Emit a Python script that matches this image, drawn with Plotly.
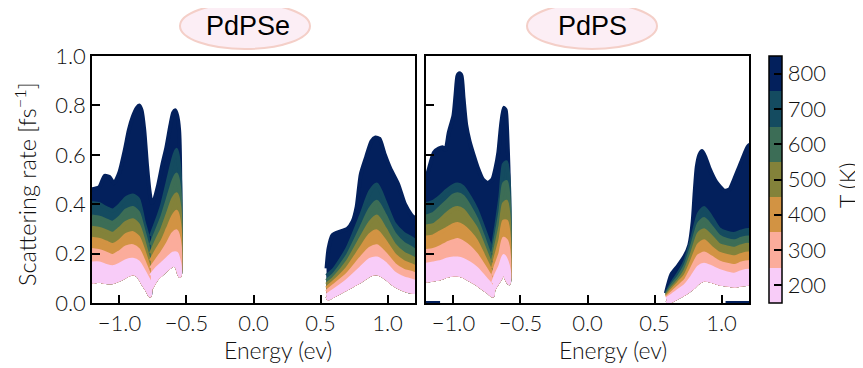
import plotly.graph_objects as go
from plotly.subplots import make_subplots

# ---------------- data ----------------
temps = [200, 300, 400, 500, 600, 700, 800]
tick_x = [-1.0, -0.5, 0.0, 0.5, 1.0]
tick_x_text = ["\u22121.0", "\u22120.5", "0.0", "0.5", "1.0"]
tick_y = [0.0, 0.2, 0.4, 0.6, 0.8, 1.0]
tick_y_text = ["0.0", "0.2", "0.4", "0.6", "0.8", "1.0"]
panel_titles = ["PdPSe", "PdPS"]

# PdPSe, valence side, first hump (band tops for 200..700 K, bottom of the 200 K band)
se_a_E = [-1.205, -1.15, -1.1, -1.05, -1.0, -0.95, -0.9, -0.86, -0.82, -0.79, -0.772]
se_a_tops = {
    200: [0.16, 0.16, 0.15, 0.145, 0.155, 0.17, 0.175, 0.165, 0.13, 0.10, 0.08],
    300: [0.215, 0.21, 0.20, 0.19, 0.205, 0.225, 0.23, 0.215, 0.17, 0.13, 0.105],
    400: [0.26, 0.255, 0.245, 0.235, 0.25, 0.275, 0.283, 0.265, 0.21, 0.16, 0.13],
    500: [0.305, 0.30, 0.29, 0.28, 0.30, 0.325, 0.335, 0.315, 0.25, 0.19, 0.16],
    600: [0.35, 0.345, 0.335, 0.325, 0.345, 0.375, 0.385, 0.365, 0.29, 0.23, 0.18],
    700: [0.405, 0.40, 0.385, 0.375, 0.395, 0.425, 0.435, 0.42, 0.33, 0.27, 0.20],
}
se_a_bottom = [0.085, 0.09, 0.085, 0.085, 0.095, 0.11, 0.12, 0.11, 0.075, 0.05, 0.03]

# PdPSe, valence side, second peak
se_b_E = [-0.765, -0.72, -0.68, -0.64, -0.60, -0.575, -0.55]
se_b_tops = {
    200: [0.11, 0.14, 0.16, 0.18, 0.20, 0.20, 0.15],
    300: [0.14, 0.175, 0.205, 0.24, 0.28, 0.29, 0.23],
    400: [0.17, 0.215, 0.25, 0.30, 0.35, 0.37, 0.30],
    500: [0.20, 0.255, 0.30, 0.36, 0.42, 0.44, 0.37],
    600: [0.235, 0.295, 0.35, 0.42, 0.49, 0.52, 0.44],
    700: [0.27, 0.335, 0.40, 0.49, 0.58, 0.62, 0.52],
}
se_b_bottom = [0.06, 0.10, 0.12, 0.14, 0.155, 0.15, 0.11]

# PdPSe, 800 K envelope on the valence side
se_v800_E = [-1.205, -1.15, -1.11, -1.075, -1.04, -1.0, -0.96, -0.93, -0.90, -0.87,
             -0.853, -0.835, -0.815, -0.795, -0.775, -0.76, -0.74, -0.71, -0.68,
             -0.65, -0.62, -0.60, -0.585, -0.57, -0.555, -0.547]
se_v800_top = [0.46, 0.47, 0.515, 0.51, 0.485, 0.53, 0.62, 0.70, 0.755, 0.79,
               0.80, 0.78, 0.70, 0.56, 0.45, 0.405, 0.42, 0.48, 0.56,
               0.63, 0.72, 0.77, 0.78, 0.76, 0.70, 0.52]

# PdPSe, conduction side
se_c_E = [0.545, 0.6, 0.7, 0.8, 0.87, 0.92, 0.98, 1.05, 1.12, 1.205]
se_c_tops = {
    200: [0.03, 0.05, 0.09, 0.14, 0.175, 0.18, 0.16, 0.12, 0.10, 0.085],
    300: [0.045, 0.07, 0.115, 0.18, 0.22, 0.23, 0.20, 0.155, 0.13, 0.115],
    400: [0.06, 0.085, 0.14, 0.22, 0.275, 0.29, 0.25, 0.195, 0.165, 0.145],
    500: [0.075, 0.10, 0.165, 0.26, 0.325, 0.35, 0.30, 0.235, 0.20, 0.175],
    600: [0.09, 0.115, 0.19, 0.30, 0.38, 0.41, 0.355, 0.28, 0.24, 0.21],
    700: [0.11, 0.135, 0.22, 0.35, 0.45, 0.48, 0.41, 0.32, 0.28, 0.25],
}
se_c_bottom = [0.015, 0.03, 0.06, 0.09, 0.115, 0.12, 0.105, 0.075, 0.055, 0.045]
se_c800_E = [0.545, 0.56, 0.59, 0.65, 0.70, 0.74, 0.77, 0.80, 0.84, 0.88, 0.91,
             0.94, 0.98, 1.02, 1.08, 1.13, 1.18, 1.205]
se_c800_top = [0.14, 0.22, 0.275, 0.29, 0.30, 0.33, 0.39, 0.52, 0.59, 0.655, 0.67,
               0.665, 0.60, 0.545, 0.48, 0.40, 0.355, 0.34]

# PdPS, valence side, first hump
s_a_E = [-1.205, -1.15, -1.1, -1.05, -1.0, -0.97, -0.93, -0.88, -0.83, -0.78, -0.74, -0.708]
s_a_tops = {
    200: [0.155, 0.16, 0.165, 0.175, 0.18, 0.18, 0.175, 0.16, 0.14, 0.11, 0.085, 0.06],
    300: [0.21, 0.215, 0.225, 0.24, 0.25, 0.255, 0.245, 0.225, 0.195, 0.155, 0.12, 0.085],
    400: [0.265, 0.27, 0.285, 0.30, 0.315, 0.32, 0.31, 0.285, 0.25, 0.195, 0.15, 0.105],
    500: [0.31, 0.315, 0.335, 0.36, 0.38, 0.385, 0.375, 0.34, 0.30, 0.235, 0.18, 0.13],
    600: [0.35, 0.36, 0.385, 0.41, 0.435, 0.44, 0.43, 0.39, 0.34, 0.27, 0.21, 0.16],
    700: [0.40, 0.41, 0.43, 0.455, 0.475, 0.48, 0.47, 0.43, 0.38, 0.31, 0.25, 0.20],
}
s_a_bottom = [0.09, 0.095, 0.10, 0.11, 0.115, 0.115, 0.11, 0.095, 0.08, 0.06, 0.045, 0.03]

# PdPS, valence side, second peak
s_b_E = [-0.705, -0.68, -0.65, -0.625, -0.605, -0.586]
s_b_tops = {
    200: [0.08, 0.115, 0.15, 0.19, 0.17, 0.13],
    300: [0.11, 0.155, 0.20, 0.26, 0.25, 0.19],
    400: [0.14, 0.195, 0.255, 0.33, 0.33, 0.26],
    500: [0.17, 0.235, 0.31, 0.40, 0.41, 0.33],
    600: [0.20, 0.275, 0.37, 0.48, 0.49, 0.40],
    700: [0.23, 0.315, 0.43, 0.56, 0.57, 0.48],
}
s_b_bottom = [0.05, 0.075, 0.10, 0.13, 0.10, 0.08]

s_v800_E = [-1.205, -1.17, -1.145, -1.11, -1.08, -1.06, -1.035, -1.0, -0.985, -0.97,
            -0.955, -0.94, -0.925, -0.905, -0.88, -0.85, -0.82, -0.78, -0.745, -0.71,
            -0.685, -0.665, -0.645, -0.625, -0.61, -0.60, -0.59, -0.586]
s_v800_top = [0.50, 0.57, 0.61, 0.625, 0.63, 0.62, 0.69, 0.76, 0.84, 0.92,
              0.93, 0.92, 0.83, 0.72, 0.655, 0.60, 0.55, 0.50, 0.486, 0.50,
              0.55, 0.61, 0.72, 0.79, 0.78, 0.70, 0.55, 0.45]

# PdPS, conduction side
s_c_E = [0.59, 0.63, 0.68, 0.73, 0.78, 0.83, 0.87, 0.92, 0.98, 1.04, 1.1, 1.15, 1.205]
s_c_tops = {
    200: [0.015, 0.03, 0.05, 0.07, 0.105, 0.145, 0.155, 0.145, 0.13, 0.12, 0.115, 0.125, 0.13],
    300: [0.02, 0.04, 0.065, 0.09, 0.14, 0.19, 0.20, 0.185, 0.165, 0.155, 0.15, 0.16, 0.165],
    400: [0.025, 0.05, 0.08, 0.11, 0.17, 0.235, 0.25, 0.225, 0.20, 0.19, 0.185, 0.195, 0.20],
    500: [0.03, 0.06, 0.09, 0.13, 0.20, 0.28, 0.295, 0.27, 0.235, 0.225, 0.22, 0.23, 0.235],
    600: [0.035, 0.07, 0.105, 0.15, 0.23, 0.32, 0.34, 0.31, 0.27, 0.255, 0.25, 0.26, 0.265],
    700: [0.04, 0.08, 0.12, 0.17, 0.26, 0.36, 0.385, 0.35, 0.30, 0.285, 0.28, 0.29, 0.295],
}
s_c_bottom = [0.0, 0.01, 0.025, 0.04, 0.06, 0.085, 0.095, 0.09, 0.08, 0.075, 0.07, 0.075, 0.08]
s_c800_E = [0.585, 0.625, 0.675, 0.725, 0.76, 0.785, 0.80, 0.815, 0.835, 0.855, 0.88,
            0.91, 0.96, 1.02, 1.06, 1.09, 1.15, 1.205]
s_c800_top = [0.04, 0.115, 0.15, 0.19, 0.235, 0.33, 0.45, 0.55, 0.60, 0.615, 0.59,
              0.545, 0.49, 0.455, 0.46, 0.495, 0.575, 0.64]

# near-zero rates lying on the bottom axis (PdPS)
s_zero_left_E = [-1.205, -1.1]
s_zero_right_E = [1.03, 1.205]

# ---------------- styling ----------------
colors = {200: "#F8CCF8", 300: "#FBAC9B", 400: "#D29343", 500: "#83823A",
          600: "#3C6D56", 700: "#144B60", 800: "#03205C"}
FONT = "Lato, 'Liberation Sans', Arial, sans-serif"
TXT = "#111111"
OFF = 8              # page body margin of the rendered html
W, H = 863 - OFF, 368 - OFF


def fx(px):
    return (px - OFF) / W


def fy(py):
    return (H - (py - OFF)) / H


fig = make_subplots(rows=1, cols=2)


def band(E, top, bottom_E, bottom, color, col):
    fig.add_trace(go.Scatter(
        x=list(E) + list(bottom_E)[::-1],
        y=list(top) + list(bottom)[::-1],
        fill="toself", fillcolor=color, mode="lines",
        line=dict(color=color, width=4, shape="spline", smoothing=0.6),
        hoverinfo="skip", showlegend=False), row=1, col=col)


def panel(col, v800_E, v800_top, segs, c800_E, c800_top, c_seg):
    # 800 K first, colder bands drawn on top
    bE = []
    bB = []
    for E, tops, bot in segs:
        bE += E
        bB += bot
    band(v800_E, v800_top, bE, bB, colors[800], col)
    band(c800_E, c800_top, c_seg[0], c_seg[2], colors[800], col)
    for T in [700, 600, 500, 400, 300, 200]:
        for E, tops, bot in segs + [c_seg]:
            band(E, tops[T], E, bot, colors[T], col)


panel(1, se_v800_E, se_v800_top,
      [(se_a_E, se_a_tops, se_a_bottom), (se_b_E, se_b_tops, se_b_bottom)],
      se_c800_E, se_c800_top, (se_c_E, se_c_tops, se_c_bottom))
panel(2, s_v800_E, s_v800_top,
      [(s_a_E, s_a_tops, s_a_bottom), (s_b_E, s_b_tops, s_b_bottom)],
      s_c800_E, s_c800_top, (s_c_E, s_c_tops, s_c_bottom))

for zE in (s_zero_left_E, s_zero_right_E):
    fig.add_trace(go.Scatter(x=zE, y=[0.004, 0.004], mode="lines",
                             line=dict(color=colors[800], width=2),
                             hoverinfo="skip", showlegend=False), row=1, col=2)

# colour bar (discrete, 7 bins from 150 to 850 K)
cscale = []
for i, T in enumerate(temps):
    cscale.append([i / 7, colors[T]])
    cscale.append([(i + 1) / 7, colors[T]])
ydom = [fy(303), fy(56)]
fig.add_trace(go.Scatter(
    x=[0], y=[-5], mode="markers", showlegend=False, hoverinfo="skip",
    marker=dict(color=[500], cmin=150, cmax=850, colorscale=cscale, showscale=True,
                colorbar=dict(x=fx(769), xanchor="left", y=sum(ydom) / 2, yanchor="middle",
                              len=(303 - 56) / H, lenmode="fraction",
                              thickness=13, thicknessmode="pixels",
                              outlinewidth=1.5, outlinecolor="black",
                              tickvals=temps, ticktext=[str(t) for t in temps],
                              ticks="inside", ticklen=8, tickwidth=1.5, tickcolor="black",
                              tickfont=dict(family=FONT, size=22, color=TXT, weight=300),
                              xpad=0, ypad=0)),
), row=1, col=2)

axis_common = dict(showline=True, linecolor="black", linewidth=1.5, mirror=True,
                   ticks="inside", ticklen=8, tickwidth=1.5, tickcolor="black",
                   showgrid=False, zeroline=False,
                   tickfont=dict(family=FONT, size=22, color=TXT, weight=300))
xd = [[fx(92), fx(415)], [fx(426), fx(749)]]
for i, ax in enumerate(["xaxis", "xaxis2"]):
    fig.layout[ax].update(domain=xd[i], range=[-1.205, 1.205], tickvals=tick_x,
                          ticktext=tick_x_text, **axis_common)
for i, ax in enumerate(["yaxis", "yaxis2"]):
    fig.layout[ax].update(domain=ydom, range=[0, 1.0], tickvals=tick_y,
                          ticktext=tick_y_text, showticklabels=(i == 0), **axis_common)

# title badges
badges = [(180, 310, 248), (527, 657, 592)]
for (x0, x1, xc), name in zip(badges, panel_titles):
    fig.add_shape(type="circle", xref="paper", yref="paper",
                  x0=fx(x0), x1=fx(x1), y0=fy(49), y1=fy(3),
                  fillcolor="#FCEEF5", line=dict(color="#F4CFC8", width=2), layer="below")
    fig.add_annotation(x=fx(xc), y=fy(26), xref="paper", yref="paper",
                       xanchor="center", yanchor="middle",
                       text=name, showarrow=False,
                       font=dict(family="'Liberation Sans', Arial, sans-serif", size=27, color="black"))

fig.add_annotation(x=fx(25), y=fy(184), xref="paper", yref="paper", textangle=-90,
                   xanchor="center", yanchor="middle",
                   text="Scattering rate [fs<sup>\u22121</sup>]", showarrow=False,
                   font=dict(family=FONT, size=23.5, color=TXT, weight=300))
for xc in (278, 613):
    fig.add_annotation(x=fx(xc), y=fy(350), xref="paper", yref="paper",
                       xanchor="center", yanchor="middle",
                       text="Energy (ev)", showarrow=False,
                       font=dict(family=FONT, size=23, color=TXT, weight=300))
fig.add_annotation(x=fx(848), y=fy(186), xref="paper", yref="paper", textangle=-90,
                   xanchor="center", yanchor="middle",
                   text="T (K)", showarrow=False,
                   font=dict(family=FONT, size=23, color=TXT, weight=300))

fig.update_layout(width=W, height=H, margin=dict(l=0, r=0, t=0, b=0, autoexpand=False),
                  paper_bgcolor="white", plot_bgcolor="white", showlegend=False)

fig.write_html("out.html")
